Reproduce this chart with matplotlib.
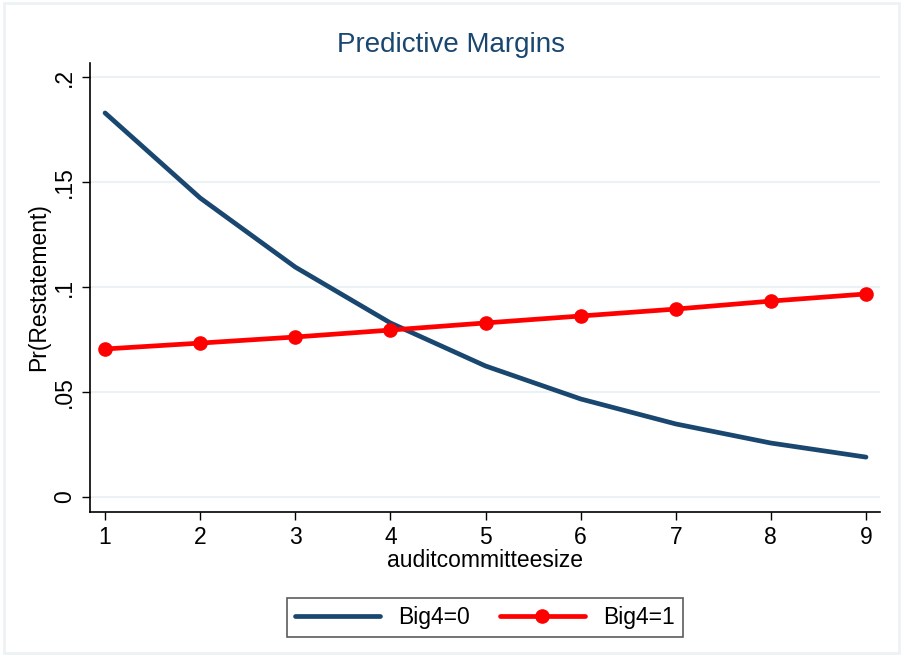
import matplotlib
matplotlib.use("Agg")
import matplotlib.pyplot as plt
from matplotlib.patches import Rectangle

# predictive margins
size = [1, 2, 3, 4, 5, 6, 7, 8, 9]
big4_0 = [0.1829, 0.1424, 0.1095, 0.0829, 0.0624, 0.0467, 0.0348, 0.0257, 0.0190]
big4_1 = [0.0705, 0.0733, 0.0762, 0.0795, 0.0829, 0.0862, 0.0895, 0.0933, 0.0967]
yticks = [0, 0.05, 0.1, 0.15, 0.2]
ylabels = ["0", ".05", ".1", ".15", ".2"]

plt.rcParams['font.family'] = ['Liberation Sans', 'DejaVu Sans']

navy = '#1a476f'
fs = 16.5
fig = plt.figure(figsize=(9.03, 6.56), dpi=100)
fig.patches.append(Rectangle((0.004, 0.004), 0.992, 0.991, transform=fig.transFigure,
                             fill=False, edgecolor='#edf3f4', linewidth=2))
ax = fig.add_axes([0.0997, 0.2195, 0.8748, 0.6845])

ax.plot(size, big4_0, color=navy, linewidth=3.4, label='Big4=0', solid_capstyle='round')
ax.plot(size, big4_1, color='red', linewidth=3.4, marker='o', markersize=9.5,
        label='Big4=1', solid_capstyle='round')

ax.set_xlim(0.842, 9.147)
ax.set_ylim(-0.00714, 0.2067)
ax.set_xticks(size)
ax.set_yticks(yticks)
ax.set_yticklabels(ylabels, rotation=90, va='center')
ax.tick_params(direction='out', length=6, width=1, labelsize=fs, colors='black', pad=4)
ax.grid(axis='y', color='#eaf2f3', linewidth=1.5)
ax.set_axisbelow(True)
for s in ['top', 'right']:
    ax.spines[s].set_visible(False)
for s in ['left', 'bottom']:
    ax.spines[s].set_linewidth(1.2)

ax.set_xlabel('auditcommitteesize', fontsize=fs, labelpad=0)
ax.set_ylabel('Pr(Restatement)', fontsize=fs, labelpad=2)
fig.text(0.5, 1 - 45 / 656, 'Predictive Margins', fontsize=20, color=navy,
         ha='center', va='center')

leg = ax.legend(loc='upper center', bbox_to_anchor=(0.5, -0.165), ncol=2, fontsize=fs,
                frameon=True, fancybox=False, edgecolor='#333333', handlelength=3.7,
                columnspacing=1.3, borderpad=0.35, handletextpad=0.8)
leg.get_frame().set_linewidth(1.2)

fig.savefig('out.png', dpi=100)
